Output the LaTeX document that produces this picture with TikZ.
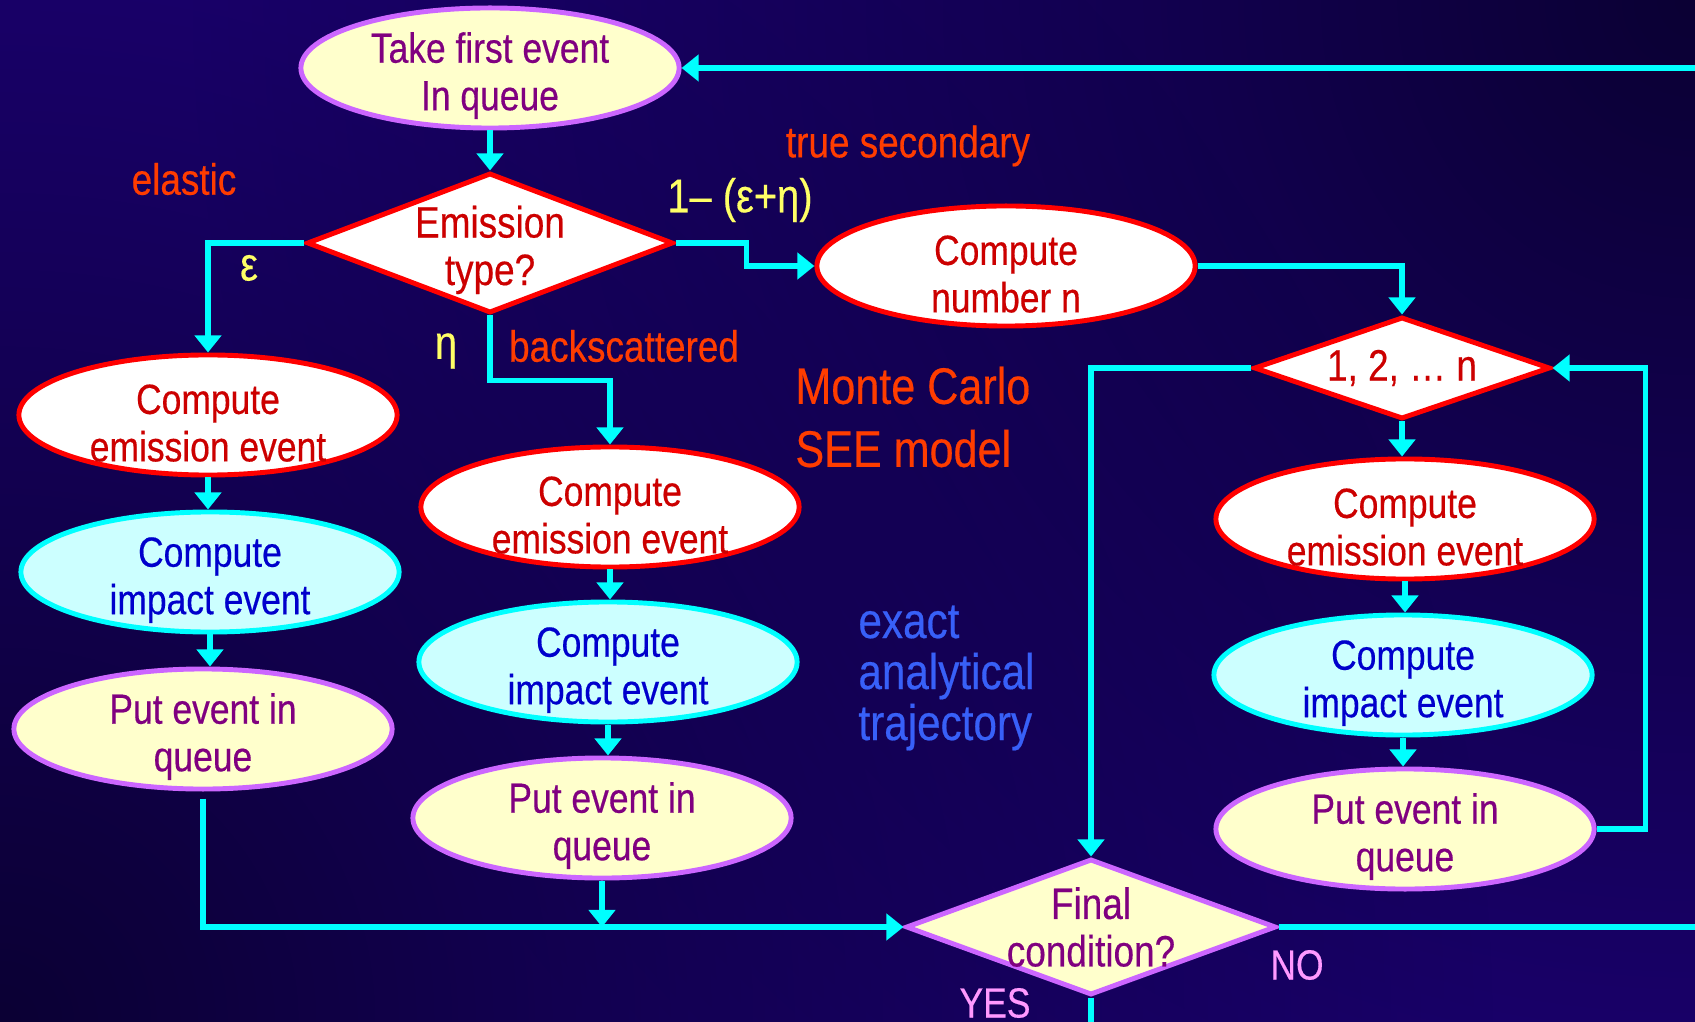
\documentclass[tikz,border=0pt]{standalone}
\usepackage{fontspec}
\setmainfont{Liberation Sans}[FakeStretch=0.84, FakeBold=0.35]
\usetikzlibrary{shapes.geometric,arrows.meta,fadings}
\definecolor{bgmain}{HTML}{1F0080}
\definecolor{bgdark}{HTML}{0B0034}
\definecolor{flowcyan}{HTML}{00FFFF}
\definecolor{redline}{HTML}{FF0000}
\definecolor{redtext}{HTML}{CC0000}
\definecolor{violetline}{HTML}{CC66FF}
\definecolor{cream}{HTML}{FFFFCC}
\definecolor{purpletext}{HTML}{800080}
\definecolor{icefill}{HTML}{CCFFFF}
\definecolor{bluetext}{HTML}{0000CC}
\definecolor{orangelbl}{HTML}{FF3C00}
\definecolor{yellowlbl}{HTML}{FFFF66}
\definecolor{bluelbl}{HTML}{3860F8}
\definecolor{pinklbl}{HTML}{FF99FF}
\tikzfading[name=cornerglow, inner color=transparent!0, outer color=transparent!100]
\newcommand{\lowtext}{\rule{0pt}{13pt}}
\begin{document}
\begin{tikzpicture}[x=0.01cm, y=-0.01cm,
    every node/.style={font=\fontsize{12}{13.5}\selectfont, align=center},
    oval/.style={ellipse, line width=1.4pt, minimum width=3.78cm,
      minimum height=1.2cm, inner xsep=0pt, inner ysep=-5pt},
    queue/.style={oval, draw=violetline, fill=cream, text=purpletext},
    emit/.style={oval, draw=redline, fill=white, text=redtext},
    impact/.style={oval, draw=flowcyan, fill=icefill, text=bluetext},
    choice/.style={diamond, line width=1.4pt, inner xsep=0pt, inner ysep=-8pt,
      shape aspect=2.7, font=\fontsize{12.5}{13.5}\selectfont},
    flow/.style={draw=flowcyan, line width=1.6pt},
    tip/.style={-{Triangle[length=0.17cm, width=0.26cm]}},
    lbl/.style={text=orangelbl, font=\fontsize{12.5}{14}\selectfont},
    greek/.style={text=yellowlbl, font=\fontsize{13.5}{15}\selectfont},
    answer/.style={text=pinklbl, font=\fontsize{12}{14}\selectfont}]
  \useasboundingbox (0,0) rectangle (1695,1022);
  \fill[bgmain] (0,0) rectangle (1695,1022);
  \fill[bgdark, path fading=cornerglow] (1695,0) circle (1500);
  \fill[bgdark, path fading=cornerglow] (0,1022) circle (1500);

  % main chain
  \node[queue] (take) at (490,68) {\lowtext Take first event\\In queue};
  \node[choice, draw=redline, fill=white, text=redtext, shape aspect=2.6,
    minimum width=3.66cm, minimum height=1.4cm] (emtype) at (490,243)
    {\lowtext Emission\\type?};

  % elastic
  \node[emit] (emitL) at (208,415) {\lowtext Compute\\emission event};
  \node[impact] (impL) at (210,572) {\lowtext Compute\\impact event};
  \node[queue] (putL) at (203,729) {\lowtext Put event in\\queue};

  % backscattered
  \node[emit] (emitM) at (610,507) {\lowtext Compute\\emission event};
  \node[impact] (impM) at (608,662) {\lowtext Compute\\impact event};
  \node[queue] (putM) at (602,818) {\lowtext Put event in\\queue};

  % true secondary
  \node[emit] (count) at (1006,266) {\lowtext Compute\\number n};
  \node[choice, draw=redline, fill=white, text=redtext, shape aspect=2.9,
    minimum width=2.96cm, minimum height=1.02cm] (loop) at (1402,368) {1, 2, … n};
  \node[emit] (emitR) at (1405,519) {\lowtext Compute\\emission event};
  \node[impact] (impR) at (1403,675) {\lowtext Compute\\impact event};
  \node[queue] (putR) at (1405,829) {\lowtext Put event in\\queue};

  \node[choice, draw=violetline, fill=cream, text=purpletext,
    minimum width=3.7cm, minimum height=1.36cm] (final) at (1091,927) {Final\\condition?};

  \coordinate (back) at (1695,68);
  \coordinate (noexit) at (1695,927);
  \coordinate (yesexit) at (1091,1022);

  % labels
  \node[lbl] (elastic) at (184,179) {elastic};
  \node[lbl] (truesec) at (908,146) {true secondary};
  \node[lbl] (backsc) at (624,346) {backscattered};
  \node[greek] (share) at (740,200) {1– (ε+η)};
  \node[greek] (eps) at (249,268) {ε};
  \node[greek] (eta) at (446,351) {η};
  \node[text=orangelbl, font=\fontsize{14.6}{17.9}\selectfont, align=left,
    anchor=west] (model) at (783,417) {Monte Carlo\\SEE model};
  \node[text=bluelbl, font=\fontsize{14.3}{14.5}\selectfont, align=left,
    anchor=west] (traj) at (846,678) {exact\\analytical\\trajectory};
  \node[answer] (no) at (1297,965) {NO};
  \node[answer] (yes) at (995,1003) {YES};

  \begin{scope}[flow]
    \draw[tip] (back) -- (take.east);
    \draw[tip] (take) -- (emtype);
    \draw[tip] (emtype.west) -| (emitL.north);
    \draw[tip] (emtype.south) -- ++(0,65) -| (emitM.north);
    \draw[tip] (emtype.east) -- ++(71,0) |- (count.west);
    \draw[tip] (emitL.south) -- (emitL.south |- impL.north);
    \draw[tip] (impL.south) -- (impL.south |- putL.north);
    \draw[tip] (emitM.south) -- (emitM.south |- impM.north);
    \draw[tip] (impM.south) -- (impM.south |- putM.north);
    \draw[tip] (putM.south) -- (putM.south |- final.west);
    \draw[tip] ([yshift=-2pt]putL.south) |- (final.west);
    \draw[tip] (count.east) -| (loop.north);
    \draw[tip] (loop.south) -- (loop.south |- emitR.north);
    \draw[tip] (emitR.south) -- (emitR.south |- impR.north);
    \draw[tip] (impR.south) -- (impR.south |- putR.north);
    \draw[tip] (putR.east) -- ++(49,0) |- (loop.east);
    \draw[tip] (loop.west) -| (final.north);
    \draw (final.east) -- (noexit);
    \draw (final.south) -- (yesexit);
  \end{scope}
\end{tikzpicture}
\end{document}
